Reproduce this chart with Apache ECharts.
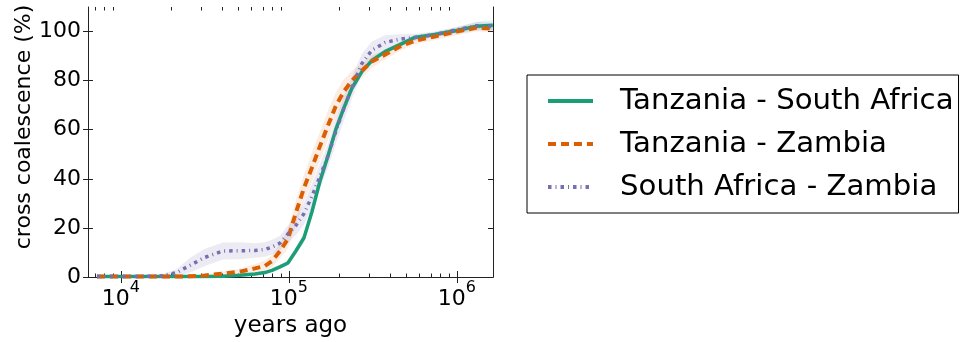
<!DOCTYPE html>
<html>
<head>
<meta charset="utf-8">
<script src="https://cdn.jsdelivr.net/npm/echarts@6/dist/echarts.min.js"></script>
<style>
  html, body { margin: 0; padding: 0; background: #fff; }
  #chart { width: 963px; height: 342px; }
</style>
</head>
<body>
<div id="chart"></div>
<script>
// Time points (years ago), shared by all three pairs
const yearsAgo = [7200, 11300, 17100, 21500, 25700, 31600, 40500, 51100, 62800, 72000,
  79300, 88400, 98600, 110000, 123000, 137000, 153000, 171000, 190000, 212000,
  237000, 272000, 312000, 373000, 458000, 562000, 739000, 1000000, 1315000, 1636000];

// Relative cross coalescence rate (%) for each population pair
const tanzaniaSouthAfrica = [0.2, 0.2, 0.2, 0.2, 0.2, 0.2, 0.3, 0.7, 1.2, 1.8,
  2.7, 4.1, 5.7, 10.6, 16, 26.5, 39, 49.4, 60, 68.7,
  76.9, 83.7, 88.2, 91.8, 94.7, 97.6, 98.8, 100.4, 102.2, 102.6];
const tanzaniaZambia = [0.2, 0.2, 0.2, 0.2, 0.3, 0.6, 1.4, 2.2, 3.5, 4.5,
  6.5, 10.5, 15.5, 26.1, 36.3, 44.5, 53.3, 61.8, 69.6, 75.5,
  80, 84.1, 87.8, 90.6, 93.9, 96.3, 98, 100, 101.6, 101.2];
const southAfricaZambia = [0.2, 0.2, 0.4, 1.8, 4.7, 8, 10.6, 10.7, 10.8, 11.2,
  12.2, 13.8, 17.5, 21, 25.9, 32.8, 41, 49.4, 59.2, 68.6,
  77.1, 87, 92.4, 95.5, 96.9, 97.6, 98.8, 100.8, 102.4, 102];

// Half-width of the bootstrap spread around each curve (%)
const spreadTzSa = [0, 0, 0, 0, 0, 0, 0, 0.3, 0.5, 0.5, 0.6, 0.8, 1, 1.5, 2, 2.5, 2.5, 2.5, 2.5, 2,
  1.5, 1.2, 1.2, 1, 1, 1, 1, 1.2, 1.8, 2];
const spreadTzZm = [0, 0, 0, 0, 0.3, 0.5, 0.8, 1.2, 1.8, 2.2, 2.5, 3, 4, 5, 5.5, 6, 6, 6, 5.5, 5,
  4, 3, 2.5, 2, 1.8, 1.5, 1.5, 1.5, 1.5, 1.5];
const spreadSaZm = [0, 0, 0.3, 1.5, 3, 3.5, 3.5, 3.5, 3, 3, 3, 3, 3.5, 4, 4.5, 5, 5, 5, 5, 5,
  4.5, 4, 3.5, 3, 2, 1.5, 1.2, 1.2, 1.5, 1.5];

const seriesNames = ['Tanzania - South Africa', 'Tanzania - Zambia', 'South Africa - Zambia'];
const yTicks = [0, 20, 40, 60, 80, 100];
const xDecades = [4, 5, 6];          // labelled powers of ten
const xRange = [6370, 1640000];      // visible span in years

const FONT = 'DejaVu Sans';
const INK = '#222';
const lg = Math.log10;

const majorX = xDecades.slice();
const minorX = [];
for (let e = 3; e <= 6; e++) {
  for (let k = 2; k <= 9; k++) {
    const v = lg(k * Math.pow(10, e));
    if (v > lg(xRange[0]) && v < lg(xRange[1])) minorX.push(v);
  }
}

const pts = arr => yearsAgo.map((t, i) => [lg(t), arr[i]]);

// Shaded spread drawn as one polygon through the axis scales
function bandSeries(vals, spread, color) {
  const rows = yearsAgo.map((t, i) => [lg(t), Math.max(0, vals[i] - spread[i]), vals[i] + spread[i]]);
  return {
    type: 'custom', silent: true, clip: true, z: 1,
    data: rows,
    encode: { x: 0, y: [1, 2] },
    renderItem: function (params, api) {
      if (params.dataIndex !== 0) return null;
      const upper = rows.map(r => api.coord([r[0], r[2]]));
      const lower = rows.map(r => api.coord([r[0], r[1]])).reverse();
      return {
        type: 'polygon',
        shape: { points: upper.concat(lower) },
        style: { fill: color, stroke: null }
      };
    }
  };
}

const xBase = { type: 'value', min: lg(xRange[0]), max: lg(xRange[1]), gridIndex: 0,
  splitLine: { show: false } };
const yBase = { type: 'value', min: 0, max: 110, splitLine: { show: false } };

const option = {
  animation: false,
  grid: { left: 88, right: 470, top: 7, bottom: 65, outerBoundsMode: 'none' },
  xAxis: [
    Object.assign({}, xBase, {
      position: 'bottom',
      name: 'years ago', nameLocation: 'middle', nameGap: 34,
      nameTextStyle: { fontFamily: FONT, fontSize: 23, color: '#000' },
      axisLine: { show: true, lineStyle: { color: INK, width: 1 } },
      axisTick: { show: true, inside: true, length: 6, customValues: majorX, lineStyle: { color: INK } },
      axisLabel: {
        show: true, margin: 3, customValues: majorX,
        formatter: v => '{b|10}{s|' + Math.round(v) + '}',
        rich: {
          b: { fontFamily: FONT, fontSize: 22, color: '#000', verticalAlign: 'bottom', lineHeight: 30 },
          s: { fontFamily: FONT, fontSize: 16, color: '#000', verticalAlign: 'top', lineHeight: 13 }
        }
      }
    }),
    Object.assign({}, xBase, {
      position: 'bottom', axisLine: { show: false }, axisLabel: { show: false },
      axisTick: { show: true, inside: true, length: 3.5, customValues: minorX, lineStyle: { color: INK } }
    }),
    Object.assign({}, xBase, {
      position: 'top', axisLabel: { show: false },
      axisLine: { show: true, lineStyle: { color: INK, width: 1 } },
      axisTick: { show: true, inside: true, length: 6, customValues: majorX, lineStyle: { color: INK } }
    }),
    Object.assign({}, xBase, {
      position: 'top', axisLine: { show: false }, axisLabel: { show: false },
      axisTick: { show: true, inside: true, length: 3.5, customValues: minorX, lineStyle: { color: INK } }
    })
  ],
  yAxis: [
    Object.assign({}, yBase, {
      position: 'left',
      name: 'cross coalescence (%)', nameLocation: 'middle', nameGap: 52, nameRotate: 90,
      nameTextStyle: { fontFamily: FONT, fontSize: 22, color: '#000', padding: [0, 0, 0, 30] },
      axisLine: { show: true, lineStyle: { color: INK, width: 1 } },
      axisTick: { show: true, inside: false, length: 5, customValues: yTicks, lineStyle: { color: INK } },
      axisLabel: { show: true, margin: 7, customValues: yTicks, fontFamily: FONT, fontSize: 22, color: '#000' }
    }),
    Object.assign({}, yBase, {
      position: 'left', axisLine: { show: false }, axisLabel: { show: false },
      axisTick: { show: true, inside: true, length: 5, customValues: yTicks, lineStyle: { color: INK } }
    }),
    Object.assign({}, yBase, {
      position: 'right', axisLabel: { show: false },
      axisLine: { show: true, lineStyle: { color: INK, width: 1 } },
      axisTick: { show: true, inside: true, length: 5, customValues: yTicks, lineStyle: { color: INK } }
    })
  ],
  legend: {
    data: seriesNames,
    orient: 'vertical', left: 527, top: 75,
    itemWidth: 45, itemHeight: 14, itemGap: 9,
    padding: [9, 5, 9, 19],
    borderColor: '#000', borderWidth: 1, borderRadius: 0,
    selectedMode: false,
    itemStyle: { color: 'rgba(0,0,0,0)', borderWidth: 0, opacity: 0 },
    lineStyle: { width: 4 },
    textStyle: { fontFamily: FONT, fontSize: 29.2, color: '#000', lineHeight: 34, padding: [0, 0, 0, 22] }
  },
  series: [
    bandSeries(tanzaniaSouthAfrica, spreadTzSa, 'rgba(27,158,119,0.12)'),
    bandSeries(tanzaniaZambia, spreadTzZm, 'rgba(217,95,2,0.11)'),
    bandSeries(southAfricaZambia, spreadSaZm, 'rgba(117,112,179,0.14)'),
    { name: seriesNames[0], type: 'line', data: pts(tanzaniaSouthAfrica), symbol: 'none', z: 3,
      color: '#1b9e77', lineStyle: { color: '#1b9e77', width: 3.5, type: 'solid' } },
    { name: seriesNames[1], type: 'line', data: pts(tanzaniaZambia), symbol: 'none', z: 4,
      color: '#d95f02', lineStyle: { color: '#d95f02', width: 4, type: [8, 5] } },
    { name: seriesNames[2], type: 'line', data: pts(southAfricaZambia), symbol: 'none', z: 5,
      color: '#7570b3', lineStyle: { color: '#7570b3', width: 3.5, type: [3.5, 4, 1, 4] } }
  ]
};

const chart = echarts.init(document.getElementById('chart'), null, { renderer: 'canvas' });
chart.setOption(option);
</script>
</body>
</html>
